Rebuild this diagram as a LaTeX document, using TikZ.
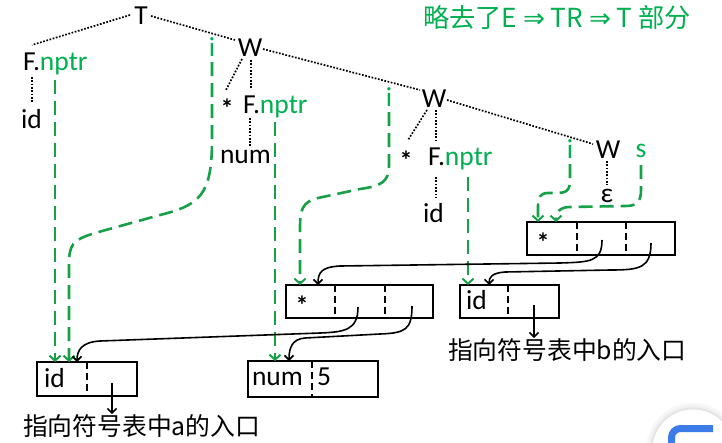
\documentclass[tikz,border=0pt]{standalone}
\usepackage{fontspec}
\setmainfont{Carlito}
\newfontfamily\cjk{Noto Sans CJK SC}
\newfontfamily\dvs{DejaVu Sans}
\usetikzlibrary{arrows.meta,calc}
\definecolor{tgreen}{RGB}{0,176,80}
\definecolor{lgreen}{RGB}{22,160,72}
\definecolor{iconblue}{RGB}{59,124,232}
\begin{document}
\begin{tikzpicture}[x=1pt,y=-1pt,
 lbl/.style={inner sep=0pt, outer sep=0pt, font=\fontsize{27.5}{30}\selectfont, anchor=base},
 lblw/.style={lbl, anchor=base west},
 glbl/.style={lbl, text=tgreen},
 starlbl/.style={inner sep=0pt, outer sep=0pt, font=\bfseries\fontsize{26}{28}\selectfont, anchor=base},
 cjklbl/.style={inner sep=0pt, outer sep=0pt, font=\cjk\fontsize{24.8}{28}\selectfont, anchor=base west},
 treeline/.style={line width=1.7pt, dash pattern=on 1.7pt off 1.6pt},
 gflow/.style={draw=lgreen, line width=2.6pt, dash pattern=on 14pt off 7pt, -{Straight Barb[length=5pt,width=11pt,line width=2pt]}},
 ptr/.style={draw=black, line width=1.6pt, -{Straight Barb[length=4.5pt,width=9pt,line width=1.6pt]}},
 cell/.style={draw, line width=2pt, inner sep=0pt, outer sep=0pt, anchor=north west},
 divider/.style={line width=2pt, dash pattern=on 7pt off 4pt},
]
\useasboundingbox (0,0) rectangle (722,442);
\fill[white] (0,0) rectangle (722,442);

% title
\node[inner sep=0pt, anchor=base west, text=tgreen, font=\cjk\fontsize{26.2}{28}\selectfont] (title) at (423,27) {略去了E {\dvs ⇒} TR {\dvs ⇒} T 部分};

% tree labels
\node[lbl] (T) at (141,24) {T};
\node[lblw] (F1) at (23,70) {F.\textcolor{tgreen}{nptr}};
\node[lblw] (id1) at (21,128) {id};
\node[lbl] (W1) at (250,56) {W};
\node[glbl] (i1) at (212,56) {i};
\node[starlbl] (st1) at (227,117.8) {*};
\node[lblw] (F2) at (243,113) {F.\textcolor{tgreen}{nptr}};
\node[lblw] (num) at (220,163) {num};
\node[lbl] (W2) at (434,107) {W};
\node[glbl] (i2) at (389,106) {i};
\node[starlbl] (st2) at (406,169.8) {*};
\node[lblw] (F3) at (428,165) {F.\textcolor{tgreen}{nptr}};
\node[lblw] (id3) at (423,222) {id};
\node[lbl] (W3) at (608,158) {W};
\node[glbl] (i3) at (570,158) {i};
\node[glbl] (s) at (641,157) {s};
\node[lbl] (eps) at (607,202) {ε};

% tree lines
\draw[treeline] ($(T.base)+(-11,-9)$) -- ($(F1.base west)+(9,-25)$);
\draw[treeline] ($(F1.base west)+(9,7)$) -- ($(id1.base west)+(11,-26)$);
\draw[treeline] ($(T.base)+(10,-8)$) -- ($(W1.base)+(-15,-16)$);
\draw[treeline] ($(W1.base)+(-8,3)$) -- ($(W1.base)+(-24,34)$);
\draw[treeline] ($(W1.base)+(1,4)$) -- ($(F2.base west)+(8,-25)$);
\draw[treeline] ($(F2.base west)+(7,5)$) -- ($(num.base west)+(30,-17)$);
\draw[treeline] ($(W1.base)+(13,-7)$) -- ($(W2.base)+(-14,-17)$);
\draw[treeline] ($(W2.base)+(-7,3)$) -- ($(W2.base)+(-26,33)$);
\draw[treeline] ($(W2.base)+(2,3)$) -- ($(F3.base west)+(8,-23)$);
\draw[treeline] ($(F3.base west)+(8,12)$) -- ($(id3.base west)+(13,-24)$);
\draw[treeline] ($(W2.base)+(13,-7)$) -- ($(W3.base)+(-15,-14)$);
\draw[treeline] ($(W3.base)+(-1,3)$) -- ($(eps.base)+(0,-17)$);

% boxes
\node[cell, minimum width=148pt, minimum height=33pt] (bA) at (527,222) {};
\node[cell, minimum width=147pt, minimum height=33pt] (bB) at (286,285) {};
\node[cell, minimum width=99pt, minimum height=33pt] (bC) at (460,285) {};
\node[cell, minimum width=100pt, minimum height=34pt] (bD) at (37,362) {};
\node[cell, minimum width=130pt, minimum height=36pt] (bE) at (248,361) {};
\draw[divider] ($(bA.north west)+(50,0)$) -- ($(bA.south west)+(50,0)$);
\draw[divider] ($(bA.north west)+(99,0)$) -- ($(bA.south west)+(99,0)$);
\draw[divider] ($(bB.north west)+(49,0)$) -- ($(bB.south west)+(49,0)$);
\draw[divider] ($(bB.north west)+(99,0)$) -- ($(bB.south west)+(99,0)$);
\draw[divider] ($(bC.north west)+(48,0)$) -- ($(bC.south west)+(48,0)$);
\draw[divider] ($(bD.north west)+(50,0)$) -- ($(bD.south west)+(50,0)$);
\draw[divider] ($(bE.north west)+(64,0)$) -- ($(bE.south west)+(64,0)$);

\node[starlbl] (stA) at (543,251.8) {*};
\node[starlbl] (stB) at (302,314.3) {*};
\node[lblw] (idC) at (466,309) {id};
\node[lblw] (idD) at (44,387) {id};
\node[lblw] (numE) at (252,385) {num};
\node[lblw] (five) at (317,385) {5};

\node[cjklbl] (txtb) at (448,359) {指向符号表中b的入口};
\node[cjklbl] (txta) at (23,435) {指向符号表中a的入口};

% green flows
\draw[gflow] ($(i1.base)+(0,6)$) -- (212,140) .. controls (212,195) and (200,205) .. (160,215) -- (95,233) .. controls (72,240) and (69,245) .. (69,265) -- ($(bD.north west)+(32,0)$);
\draw[gflow] ($(F1.base west)+(32,10)$) -- ($(bD.north west)+(18,0)$);
\draw[gflow] ($(F2.base west)+(32,9)$) -- ($(bE.north west)+(27,0)$);
\draw[gflow] ($(i2.base)+(0,6)$) -- (389,165) .. controls (389,183) and (380,186) .. (360,189) -- (318,198) .. controls (302,202) and (300,210) .. (300,228) -- ($(bB.north west)+(14,0)$);
\draw[gflow] ($(F3.base west)+(40,12)$) -- ($(bC.north west)+(8,0)$);
\draw[gflow] ($(i3.base)+(0,6)$) -- (570,180) .. controls (570,191) and (566,193) .. (556,193) -- (548,193) .. controls (540,193) and (538,198) .. (538,206) -- ($(bA.north west)+(11,0)$);
\draw[gflow] ($(s.base)+(0,8)$) -- (641,190) .. controls (641,203) and (636,206) .. (625,206) -- (570,207) .. controls (560,207) and (556,212) .. ($(bA.north west)+(29,0)$);

% pointers
\draw[ptr] ($(bA.north west)+(75,18)$) .. controls (602,262) and (590,262) .. (560,263) -- (340,266) .. controls (322,267) and (318,272) .. ($(bB.north west)+(32,0)$);
\draw[ptr] ($(bA.north west)+(124,21)$) .. controls (651,268) and (640,270) .. (610,270) -- (505,272) .. controls (492,273) and (489,277) .. ($(bC.north west)+(29,0)$);
\draw[ptr] ($(bB.north west)+(72,22)$) .. controls (358,330) and (345,332) .. (320,333) -- (100,341) .. controls (82,342) and (77,350) .. ($(bD.north west)+(40,0)$);
\draw[ptr] ($(bB.north west)+(126,21)$) .. controls (412,330) and (405,333) .. (380,334) -- (305,338) .. controls (292,339) and (289,348) .. ($(bE.north west)+(41,0)$);
\draw[ptr] ($(bC.north west)+(74,20)$) -- ($(txtb.north west)+(86,0)$);
\draw[ptr] ($(bD.north west)+(75,21)$) -- ($(txta.north west)+(89,0)$);

% screen overlay icon (bottom right)
\fill[black!3] (693,450) circle (47);
\fill[black!6] (693,450) circle (44.5);
\fill[black!10] (693,450) circle (42.5);
\fill[white] (693,450) circle (40.5);
\draw[iconblue, line width=7pt, rounded corners=9pt] (671.5,452) -- (671.5,428.5) -- (713,428.5);
\end{tikzpicture}
\end{document}
